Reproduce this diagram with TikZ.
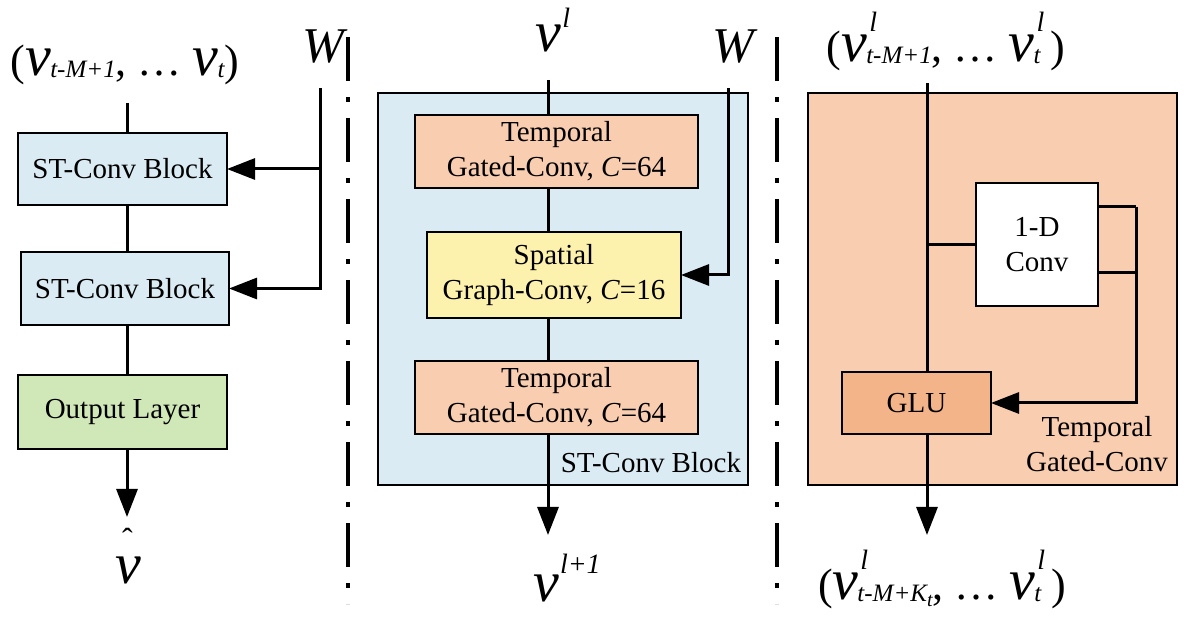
\documentclass[tikz,border=0pt]{standalone}
\usepackage{fontspec}
\setmainfont{Liberation Serif}
\usetikzlibrary{arrows.meta}
\definecolor{bluef}{HTML}{DBEBF3}
\definecolor{orangef}{HTML}{F8CDB0}
\definecolor{gluf}{HTML}{F4B48A}
\definecolor{yellowf}{HTML}{FDF1AE}
\definecolor{greenf}{HTML}{D0E7B8}
\newcommand\Vv{{\fontsize{29}{29}\selectfont\itshape v}}
\newcommand\Ss[1]{{\fontsize{12.5}{12.5}\selectfont\itshape #1}}
\newcommand\Sup[1]{{\fontsize{14}{14}\selectfont\itshape #1}}
\newcommand\Pp[1]{{\fontsize{22}{22}\selectfont #1}}
\newcommand\VSub[1]{\Vv\kern-0.5pt\raisebox{-1pt}{\Ss{#1}}}
\newcommand\VSS[2]{\Vv\makebox[0pt][l]{\kern1pt\raisebox{15pt}{\Sup{#1}}}\kern-0.5pt\raisebox{-1pt}{\Ss{#2}}}
\tikzset{
  x=0.5pt, y=-0.5pt,
  box/.style={draw, line width=1pt, inner sep=0pt, outer sep=0pt, align=center,
    font=\fontsize{14.5}{17.5}\selectfont},
  big/.style={draw, line width=1pt, inner sep=0pt, outer sep=0pt},
  wire/.style={line width=1.5pt},
  arr/.style={line width=1.5pt, -{Triangle[length=14pt,width=10.5pt]}},
  sep/.style={line width=2.3pt, dash pattern=on 22pt off 8pt on 2.5pt off 8pt},
  lbl/.style={inner sep=0pt, outer sep=0pt, anchor=base},
  txt/.style={inner sep=0pt, outer sep=0pt, font=\fontsize{14.5}{17.5}\selectfont}
}
\begin{document}
\begin{tikzpicture}
\useasboundingbox (0,0) rectangle (1196,636);
% separators
\draw[sep] (348,37) -- (348,604);
\draw[sep] (777,37) -- (777,604);

% ---------- left column ----------
\node[lbl] (inLbl) at (125,76) {\Pp{(}\VSub{t-M+1}\Pp{, \ldots\ }\VSub{t}\Pp{)}};
\node[lbl] (WL) at (323,63) {\fontsize{25}{25}\selectfont\itshape W};
\node[box, fill=bluef, minimum width=104.5pt, minimum height=36pt] (b1) at (122.5,169) {ST-Conv Block};
\node[box, fill=bluef, minimum width=104pt, minimum height=36.5pt] (b2) at (125,288.5) {ST-Conv Block};
\node[box, fill=greenf, minimum width=104.5pt, minimum height=37pt] (outl) at (122.5,412) {Output Layer};
\node[lbl] (vhat) at (128,583) {\makebox[0pt][l]{\kern3.5pt\raisebox{16.5pt}{\fontsize{16}{16}\selectfont ˆ}}\Vv};
\coordinate (inL) at (127,103);
\coordinate (outL) at (127,517);
\coordinate (Wtop) at (320,88);
\draw[wire] (inL) -- (inL |- b1.north);
\draw[wire] (b1.south -| inL) -- (b2.north -| inL);
\draw[wire] (b2.south -| inL) -- (outl.north -| inL);
\draw[arr] (outl.south -| inL) -- (outL);
\draw[arr] (Wtop) |- (b2.east);
\draw[arr] (Wtop |- b1.east) -- (b1.east);

% ---------- middle column ----------
\node[big, fill=bluef, minimum width=185pt, minimum height=196pt] (stc) at (563,289) {};
\node[lbl] (vl) at (553,52) {\Vv\kern0.5pt\raisebox{12pt}{\Sup{l}}};
\node[lbl] (WM) at (733,63) {\fontsize{25}{25}\selectfont\itshape W};
\node[box, fill=orangef, minimum width=141.5pt, minimum height=36.5pt] (t1) at (556.5,151.5) {Temporal\\Gated-Conv, \textit{C}=64};
\node[box, fill=yellowf, minimum width=127pt, minimum height=43pt] (sp) at (554,275) {Spatial\\Graph-Conv, \textit{C}=16};
\node[box, fill=orangef, minimum width=141.5pt, minimum height=36.5pt] (t2) at (556.5,397.5) {Temporal\\Gated-Conv, \textit{C}=64};
\node[txt, anchor=base east] (stcl) at (741,473) {ST-Conv Block};
\node[lbl] (vl1) at (567,602) {\Vv\kern0.5pt\raisebox{14pt}{\Sup{l+1}}};
\coordinate (inM) at (548,80);
\coordinate (outM) at (548,535);
\coordinate (WtopM) at (728,88);
\draw[wire] (inM) -- (inM |- t1.north);
\draw[wire] (t1.south -| inM) -- (sp.north -| inM);
\draw[wire] (sp.south -| inM) -- (t2.north -| inM);
\draw[arr] (t2.south -| inM) -- (outM);
\draw[arr] (WtopM) |- (sp.east);

% ---------- right column ----------
\node[big, fill=orangef, minimum width=184.5pt, minimum height=196pt] (tgc) at (992.5,289) {};
\node[lbl] (inR) at (946,62) {\Pp{(}\VSS{l}{t-M+1}\Pp{, \ldots\ }\VSS{l}{t}\kern5pt\Pp{)}};
\node[box, fill=white, minimum width=61pt, minimum height=61.5pt] (conv) at (1037,244.5) {1-D\\Conv};
\node[box, fill=gluf, minimum width=74.5pt, minimum height=31pt] (glu) at (916.5,403) {GLU};
\node[txt, align=center] (tgcl) at (1097,444) {Temporal\\Gated-Conv};
\node[lbl] (outRl) at (942,600) {\Pp{(}\VSS{l}{t-M+K\raisebox{-2.5pt}{\fontsize{10}{10}\selectfont\itshape t}}\Pp{, \ldots\ }\VSS{l}{t}\kern5pt\Pp{)}};
\coordinate (trR) at (927,83);
\coordinate (outR) at (927,535);
\coordinate (c1) at (1136,207);
\coordinate (c2) at (1136,273);
\draw[wire] (trR) -- (trR |- glu.north);
\draw[wire] (trR |- conv.west) -- (conv.west);
\draw[wire] (conv.east |- c1) -- (c1);
\draw[wire] (conv.east |- c2) -- (c2);
\draw[arr] (c1) |- (glu.east);
\draw[arr] (glu.south -| trR) -- (outR);
\end{tikzpicture}
\end{document}
